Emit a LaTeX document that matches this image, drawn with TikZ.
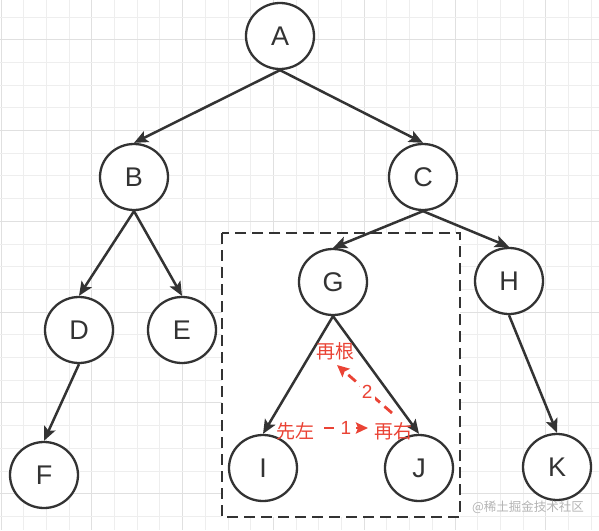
\documentclass[tikz,border=0pt]{standalone}
\usepackage{fontspec}
\setmainfont{Liberation Sans}
\newfontfamily\cjk{Noto Sans CJK SC}
\usetikzlibrary{arrows.meta,shapes.geometric}
\definecolor{ink}{HTML}{333333}
\definecolor{redlbl}{HTML}{EA4335}
\definecolor{gminor}{HTML}{EEEEEE}
\definecolor{gmajor}{HTML}{E0E0E0}
\definecolor{wm}{HTML}{B4B4B4}
\tikzset{
  tnode/.style={ellipse, draw=ink, line width=2.3pt, fill=white, minimum width=68pt, minimum height=66pt, inner sep=0pt, font=\fontsize{27}{30}\selectfont, text=ink},
  tedge/.style={draw=ink, line width=2.5pt, -{Stealth[length=14pt,width=12pt,inset=3pt]}},
  redtxt/.style={text=redlbl, font=\cjk\fontsize{19}{22}\selectfont, inner sep=1pt},
  redarrow/.style={draw=redlbl, line width=2.8pt, dash pattern=on 10pt off 6pt, -{Stealth[length=12pt,width=11pt,inset=2pt]}},
  redlab/.style={text=redlbl, font=\fontsize{19}{22}\selectfont, fill=white, inner sep=2pt},
  boxstyle/.style={draw=ink, line width=2.5pt, dash pattern=on 11pt off 6pt, fill=white}
}
\begin{document}
\begin{tikzpicture}[x=1pt,y=-1pt]
\useasboundingbox (0,0) rectangle (599,530);
\fill[white] (0,0) rectangle (599,530);
% grid
\foreach \k in {0,...,26} {
  \pgfmathsetmacro{\xx}{1+22.7*\k}
  \pgfmathtruncatemacro{\m}{mod(\k,4)}
  \ifnum\m=0
    \draw[gmajor, line width=1pt] (\xx,0) -- (\xx,530);
  \else
    \draw[gminor, line width=1pt] (\xx,0) -- (\xx,530);
  \fi
}
\foreach \k in {1,...,24} {
  \pgfmathsetmacro{\yy}{-5.7+22.7*\k}
  \pgfmathtruncatemacro{\m}{mod(\k,4)}
  \ifnum\m=2
    \draw[gmajor, line width=1pt] (0,\yy) -- (599,\yy);
  \else
    \draw[gminor, line width=1pt] (0,\yy) -- (599,\yy);
  \fi
}
% dashed box
\draw[boxstyle] (222,233) rectangle (460,517);
% nodes
\node[tnode] (A) at (280,36) {A};
\node[tnode] (B) at (134,177) {B};
\node[tnode] (C) at (423,177) {C};
\node[tnode] (D) at (79,330) {D};
\node[tnode] (E) at (182,330) {E};
\node[tnode] (F) at (44,475) {F};
\node[tnode] (G) at (333,282) {G};
\node[tnode] (H) at (509,281) {H};
\node[tnode] (I) at (263,468) {I};
\node[tnode] (J) at (419,468) {J};
\node[tnode] (K) at (557,467) {K};
% edges
\draw[tedge] (A.south) -- (B.north);
\draw[tedge] (A.south) -- (C.north);
\draw[tedge] (B.south) -- (D.north);
\draw[tedge] (B.south) -- (E.north);
\draw[tedge] (D.south) -- (F.north);
\draw[tedge] (C.south) -- (G.north);
\draw[tedge] (C.south) -- (H.north);
\draw[tedge] (G.south) -- (I.north);
\draw[tedge] (G.south) -- (J.north);
\draw[tedge] (H.south) -- (K.north);
% red annotations
\node[redtxt] (root) at (335,351) {再根};
\node[redtxt] (left) at (295,431) {先左};
\node[redtxt] (right) at (393,431) {再右};
\coordinate (a1s) at (324,428);
\coordinate (a1e) at (368,428);
\draw[redarrow] (a1s) -- node[redlab] {1} (a1e);
\coordinate (a2s) at (392,413);
\coordinate (a2e) at (337,365);
\draw[redarrow] (a2s) -- node[redlab, pos=0.45] {2} (a2e);
% watermark
\node[text=wm, font=\cjk\fontsize{12.5}{14}\selectfont, inner sep=0pt] (wmk) at (528,507) {@稀土掘金技术社区};
\end{tikzpicture}
\end{document}
